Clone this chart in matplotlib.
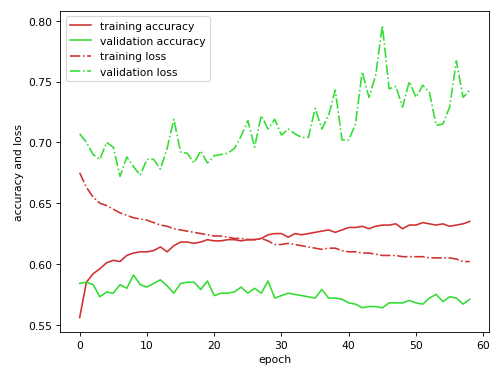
import matplotlib
matplotlib.use("Agg")
import matplotlib.pyplot as plt
import numpy as np

epochs = list(range(59))

train_acc = [0.556, 0.585, 0.592, 0.596, 0.601, 0.603, 0.602, 0.607, 0.609, 0.610,
             0.610, 0.611, 0.614, 0.610, 0.615, 0.618, 0.618, 0.617, 0.618, 0.620,
             0.619, 0.619, 0.620, 0.620, 0.619, 0.620, 0.620, 0.621, 0.624, 0.625,
             0.625, 0.622, 0.625, 0.624, 0.625, 0.626, 0.627, 0.628, 0.626, 0.628,
             0.630, 0.630, 0.631, 0.629, 0.631, 0.632, 0.632, 0.633, 0.629, 0.632,
             0.632, 0.634, 0.633, 0.632, 0.633, 0.631, 0.632, 0.633, 0.635]

val_acc = [0.584, 0.585, 0.583, 0.573, 0.577, 0.576, 0.583, 0.580, 0.591, 0.583,
           0.581, 0.584, 0.587, 0.582, 0.576, 0.584, 0.585, 0.585, 0.579, 0.586,
           0.574, 0.576, 0.576, 0.577, 0.581, 0.576, 0.580, 0.576, 0.586, 0.572,
           0.574, 0.576, 0.575, 0.574, 0.573, 0.572, 0.579, 0.572, 0.572, 0.571,
           0.568, 0.567, 0.564, 0.565, 0.565, 0.564, 0.568, 0.568, 0.568, 0.570,
           0.568, 0.567, 0.572, 0.575, 0.569, 0.573, 0.572, 0.567, 0.571]

train_loss = [0.675, 0.663, 0.655, 0.650, 0.648, 0.645, 0.642, 0.640, 0.638, 0.637,
              0.636, 0.634, 0.632, 0.631, 0.629, 0.628, 0.627, 0.626, 0.625, 0.624,
              0.623, 0.623, 0.622, 0.621, 0.621, 0.620, 0.620, 0.621, 0.619, 0.616,
              0.616, 0.617, 0.616, 0.615, 0.614, 0.613, 0.612, 0.613, 0.613, 0.611,
              0.610, 0.610, 0.609, 0.609, 0.608, 0.607, 0.607, 0.607, 0.606, 0.606,
              0.606, 0.606, 0.605, 0.605, 0.605, 0.605, 0.604, 0.602, 0.602]

val_loss = [0.707, 0.700, 0.690, 0.686, 0.700, 0.696, 0.672, 0.688, 0.680, 0.673,
            0.686, 0.686, 0.678, 0.695, 0.719, 0.692, 0.691, 0.683, 0.693, 0.683,
            0.689, 0.690, 0.691, 0.695, 0.705, 0.718, 0.696, 0.722, 0.711, 0.719,
            0.706, 0.711, 0.707, 0.704, 0.704, 0.728, 0.711, 0.722, 0.743, 0.702,
            0.702, 0.715, 0.758, 0.737, 0.755, 0.796, 0.744, 0.746, 0.729, 0.750,
            0.737, 0.747, 0.741, 0.714, 0.715, 0.729, 0.767, 0.737, 0.743]

red = '#d03232'
green = '#33dd33'

fig = plt.figure(figsize=(6.4, 4.8), dpi=77.7)
ax = fig.add_subplot(111)
fig.subplots_adjust(left=0.121, right=0.984, top=0.968, bottom=0.107)

ax.plot(epochs, train_acc, color=red, linestyle='-', label='training accuracy')
ax.plot(epochs, val_acc, color=green, linestyle='-', label='validation accuracy')
ax.plot(epochs, train_loss, color=red, linestyle='-.', label='training loss')
ax.plot(epochs, val_loss, color=green, linestyle='-.', label='validation loss')

ax.set_xlabel('epoch')
ax.set_ylabel('accuracy and loss')
ax.legend(loc='upper left')

fig.savefig('out.png', dpi=77.7)
